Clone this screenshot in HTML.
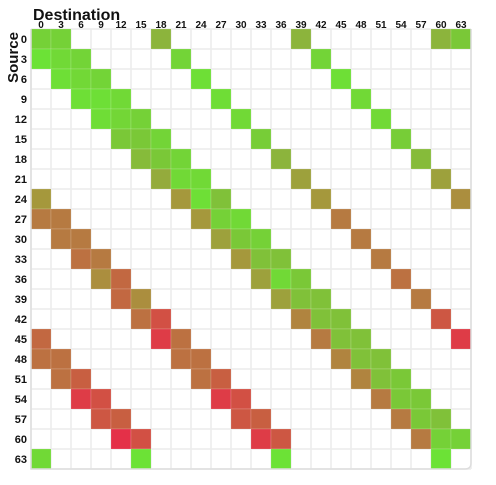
<!DOCTYPE html>
<html><head><meta charset="utf-8"><style>
html,body{margin:0;padding:0;background:#fff;}
svg{display:block;font-family:"Liberation Sans","DejaVu Sans",sans-serif;}
</style></head><body>
<svg id="chart" width="496" height="485" viewBox="0 0 496 485">
<text x="33" y="20" font-size="16" font-weight="bold" fill="#111">Destination</text>
<text transform="translate(18,32) rotate(-90)" text-anchor="end" font-size="15" font-weight="bold" fill="#111">Source</text>
<g id="grid"></g>
<g id="cells"></g>
<g id="labels"></g>
<path d="M31,29 V469 H465 Q471,469 471,463 V29" fill="none" stroke="#ddd" stroke-width="1.5"/>
</svg>
<script>
const categories = [0,3,6,9,12,15,18,21,24,27,30,33,36,39,42,45,48,51,54,57,60,63];
const cellRows = [0,0,0,0,0,0, 1,1,1,1,1, 2,2,2,2,2, 3,3,3,3,3, 4,4,4,4,4, 5,5,5,5,5, 6,6,6,6,6, 7,7,7,7,7, 8,8,8,8,8,8, 9,9,9,9,9,9, 10,10,10,10,10,10, 11,11,11,11,11,11, 12,12,12,12,12,12, 13,13,13,13,13,13, 14,14,14,14,14,14, 15,15,15,15,15,15,15, 16,16,16,16,16,16,16, 17,17,17,17,17,17,17, 18,18,18,18,18,18,18, 19,19,19,19,19,19,19, 20,20,20,20,20,20,20, 21,21,21,21];
const cellCols = [0,1,6,13,20,21, 0,1,2,7,14, 1,2,3,8,15, 2,3,4,9,16, 3,4,5,10,17, 4,5,6,11,18, 5,6,7,12,19, 6,7,8,13,20, 0,7,8,9,14,21, 0,1,8,9,10,15, 1,2,9,10,11,16, 2,3,10,11,12,17, 3,4,11,12,13,18, 4,5,12,13,14,19, 5,6,13,14,15,20, 0,6,7,14,15,16,21, 0,1,7,8,15,16,17, 1,2,8,9,16,17,18, 2,3,9,10,17,18,19, 3,4,10,11,18,19,20, 4,5,11,12,19,20,21, 0,5,12,20];
const cellValues = [0.1,0.1,0.3,0.3,0.3,0.15, 0,0.05,0.08,0.08,0.08, 0.02,0.06,0.08,0.02,0.02, 0.02,0.02,0.05,0.03,0.05, 0.03,0.07,0.1,0.05,0.05, 0.15,0.15,0.08,0.12,0.12, 0.25,0.15,0.08,0.3,0.25, 0.35,0.05,0.05,0.4,0.4, 0.45,0.45,0.02,0.2,0.45,0.5, 0.6,0.6,0.45,0.1,0.05,0.6, 0.6,0.6,0.4,0.15,0.1,0.6, 0.65,0.6,0.45,0.2,0.2,0.6, 0.5,0.7,0.4,0.05,0.15,0.65, 0.7,0.5,0.4,0.2,0.2,0.6, 0.65,0.85,0.55,0.2,0.2,0.8, 0.7,0.95,0.65,0.6,0.2,0.2,0.95, 0.65,0.65,0.65,0.65,0.55,0.2,0.2, 0.65,0.75,0.65,0.75,0.55,0.2,0.15, 0.95,0.85,0.95,0.85,0.6,0.15,0.15, 0.8,0.75,0.8,0.75,0.6,0.15,0.2, 1.0,0.85,0.95,0.8,0.6,0.1,0.1, 0.05,0,0,0];

const X0=31, Y0=29, CELL=20;
const xPos = i => X0 + i*CELL;
const yPos = i => Y0 + i*CELL;
const stops=[[0,[108,226,54]],[0.15,[122,200,55]],[0.3,[140,180,60]],[0.45,[165,152,60]],[0.6,[182,122,65]],[0.75,[200,95,65]],[0.9,[215,72,70]],[1,[228,48,72]]];
function color(v){
  for(let k=1;k<stops.length;k++){
    if(v<=stops[k][0]){const a=stops[k-1],b=stops[k];const t=(v-a[0])/(b[0]-a[0]);
      return 'rgb('+a[1].map((c,i)=>Math.round(c+(b[1][i]-c)*t)).join(',')+')';}
  }
  return 'rgb(228,48,72)';
}
const NS='http://www.w3.org/2000/svg';
const grid=document.getElementById('grid'), cells=document.getElementById('cells'), labels=document.getElementById('labels');
const n=categories.length;
for(let i=0;i<=n;i++){
  const v=document.createElementNS(NS,'line');
  
  
  v.setAttribute('x1',xPos(i));v.setAttribute('x2',xPos(i));v.setAttribute('y1',Y0);v.setAttribute('y2',yPos(n));
  v.setAttribute('stroke','#ececec');v.setAttribute('stroke-width','1.5');grid.appendChild(v);
  const h=document.createElementNS(NS,'line');
  
  
  h.setAttribute('y1',yPos(i));h.setAttribute('y2',yPos(i));h.setAttribute('x1',X0);h.setAttribute('x2',xPos(n));
  h.setAttribute('stroke','#ececec');h.setAttribute('stroke-width','1.5');grid.appendChild(h);
}
for(let k=0;k<cellValues.length;k++){
  const r=document.createElementNS(NS,'rect');
  
  
  r.setAttribute('x',xPos(cellCols[k]));r.setAttribute('y',yPos(cellRows[k]));
  r.setAttribute('width',CELL);r.setAttribute('height',CELL);
  r.setAttribute('fill',color(cellValues[k]));r.setAttribute('stroke','rgba(255,255,255,0.15)');
  cells.appendChild(r);
}
categories.forEach((c,i)=>{
  const t=document.createElementNS(NS,'text');
  
  
  t.setAttribute('x',xPos(i)+CELL/2);t.setAttribute('y',28);t.setAttribute('text-anchor','middle');
  t.setAttribute('font-size','10');t.setAttribute('font-weight','bold');t.setAttribute('fill','#111');
  t.textContent=c;labels.appendChild(t);
  const s=document.createElementNS(NS,'text');
  
  
  s.setAttribute('x',27);s.setAttribute('y',yPos(i)+CELL/2+4);s.setAttribute('text-anchor','end');
  s.setAttribute('font-size','11');s.setAttribute('font-weight','bold');s.setAttribute('fill','#111');
  s.textContent=c;labels.appendChild(s);
});
</script>
</body></html>
